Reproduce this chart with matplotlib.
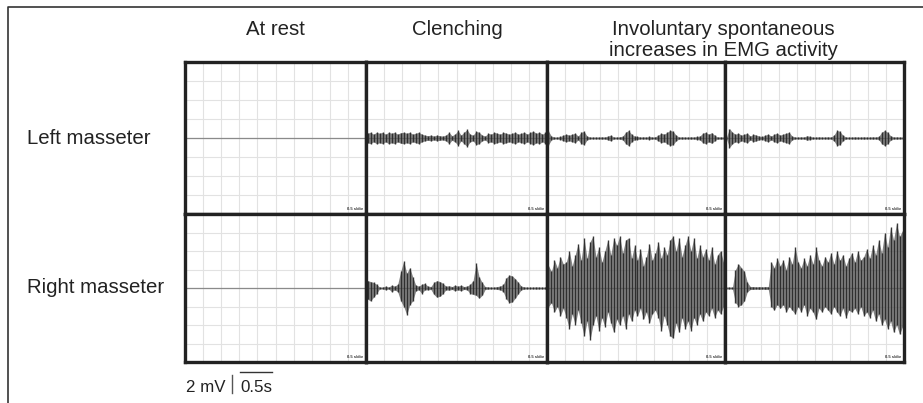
import matplotlib
matplotlib.use("Agg")
import matplotlib.pyplot as plt
from matplotlib.lines import Line2D

plt.rcParams["font.family"] = ["Liberation Sans", "DejaVu Sans"]

W, H = 923, 403

# column titles and row labels
col_titles = ["At rest", "Clenching", "Involuntary spontaneous\nincreases in EMG activity"]
row_labels = ["Left masseter", "Right masseter"]
panel_note = "0.5 s/div"

# EMG envelope, in grid divisions, 6 samples per division (10 divisions wide)
# left masseter: symmetric amplitude
left_rest = [0.0] * 60
left_clench = [0.25, 0.3, 0.2, 0.3, 0.25, 0.3,
               0.2, 0.3, 0.25, 0.3, 0.2, 0.28,
               0.3, 0.25, 0.3, 0.2, 0.25, 0.3,
               0.2, 0.15, 0.12, 0.15, 0.1, 0.15,
               0.12, 0.1, 0.15, 0.3, 0.12, 0.2,
               0.4, 0.15, 0.3, 0.45, 0.2, 0.15,
               0.35, 0.3, 0.15, 0.1, 0.25, 0.2,
               0.3, 0.25, 0.2, 0.3, 0.25, 0.2,
               0.25, 0.3, 0.2, 0.25, 0.3, 0.2,
               0.3, 0.35, 0.25, 0.3, 0.2, 0.3]
left_invol_a = [0.35, 0.1, 0.05, 0.05, 0.08, 0.15,
                0.2, 0.15, 0.2, 0.25, 0.1, 0.3,
                0.35, 0.1, 0.05, 0.05, 0.05, 0.05,
                0.06, 0.05, 0.1, 0.15, 0.05, 0.05,
                0.06, 0.1, 0.3, 0.4, 0.2, 0.1,
                0.08, 0.05, 0.06, 0.05, 0.08, 0.05,
                0.06, 0.15, 0.25, 0.2, 0.3, 0.4,
                0.35, 0.15, 0.05, 0.06, 0.05, 0.05,
                0.06, 0.05, 0.08, 0.1, 0.25, 0.3,
                0.2, 0.28, 0.15, 0.05, 0.06, 0.05]
left_invol_b = [0.05, 0.5, 0.3, 0.2, 0.25, 0.15,
                0.2, 0.25, 0.1, 0.2, 0.15, 0.1,
                0.08, 0.15, 0.2, 0.1, 0.2, 0.25,
                0.15, 0.2, 0.25, 0.3, 0.1, 0.05,
                0.05, 0.06, 0.05, 0.12, 0.08, 0.05,
                0.05, 0.06, 0.05, 0.05, 0.06, 0.05,
                0.15, 0.4, 0.35, 0.15, 0.05, 0.05,
                0.05, 0.06, 0.05, 0.05, 0.06, 0.05,
                0.05, 0.06, 0.05, 0.08, 0.3, 0.4,
                0.3, 0.12, 0.05, 0.06, 0.05, 0.05]

# right masseter: upper and lower excursions (lower given as magnitude)
right_rest_hi = [0.0] * 60
right_rest_lo = [0.0] * 60
right_clench_hi = [0.4, 0.35, 0.3, 0.2, 0.05, 0.05,
                   0.1, 0.05, 0.15, 0.1, 0.2, 0.9,
                   1.45, 0.8, 1.1, 0.6, 0.15, 0.1,
                   0.2, 0.25, 0.1, 0.08, 0.3, 0.4,
                   0.35, 0.25, 0.1, 0.12, 0.08, 0.15,
                   0.1, 0.15, 0.08, 0.1, 0.2, 0.4,
                   1.35, 0.6, 0.3, 0.08, 0.06, 0.05,
                   0.05, 0.08, 0.1, 0.2, 0.55, 0.7,
                   0.65, 0.5, 0.3, 0.1, 0.06, 0.05,
                   0.05, 0.05, 0.06, 0.05, 0.05, 0.05]
right_clench_lo = [0.6, 0.7, 0.5, 0.3, 0.05, 0.05,
                   0.1, 0.05, 0.2, 0.1, 0.2, 0.7,
                   1.0, 1.45, 0.9, 0.7, 0.15, 0.1,
                   0.3, 0.1, 0.1, 0.08, 0.35, 0.5,
                   0.45, 0.3, 0.1, 0.12, 0.08, 0.15,
                   0.1, 0.15, 0.08, 0.1, 0.3, 0.35,
                   0.4, 0.55, 0.4, 0.08, 0.06, 0.05,
                   0.05, 0.08, 0.1, 0.2, 0.6, 0.8,
                   0.75, 0.55, 0.3, 0.1, 0.06, 0.05,
                   0.05, 0.05, 0.06, 0.05, 0.05, 0.05]
right_invol_a_hi = [1.2, 0.9, 1.5, 1.1, 1.7, 1.3,
                    1.4, 2.0, 1.2, 1.8, 2.4, 1.5,
                    2.7, 1.6, 2.5, 2.8, 1.7, 2.2,
                    1.4, 2.0, 2.6, 1.8, 2.7, 2.3,
                    2.8, 1.9, 2.6, 2.7, 1.6, 2.3,
                    1.5, 2.1, 1.2, 1.7, 2.4, 1.5,
                    1.9, 2.5, 1.6, 2.2, 1.8, 2.6,
                    2.8, 2.0, 2.7, 1.7, 2.3, 2.8,
                    2.0, 2.7, 1.6, 2.3, 1.7, 2.1,
                    1.5, 2.2, 1.3, 1.8, 2.0, 1.4]
right_invol_a_lo = [1.0, 0.8, 1.3, 1.0, 1.5, 1.1,
                    1.6, 2.2, 1.4, 2.0, 1.2, 1.9,
                    2.6, 1.8, 2.8, 2.0, 1.5, 2.3,
                    1.6, 2.1, 1.3, 1.9, 2.4, 1.7,
                    2.0, 1.5, 2.2, 1.4, 1.8, 1.2,
                    1.5, 1.1, 1.7, 1.3, 1.9, 1.4,
                    1.2, 1.6, 2.3, 1.5, 2.0, 2.6,
                    2.7, 1.9, 2.4, 1.6, 2.2, 1.8,
                    2.3, 1.6, 2.0, 1.4, 1.8, 1.3,
                    1.5, 1.1, 1.6, 1.2, 1.4, 1.0]
right_invol_b_hi = [0.05, 0.05, 0.05, 1.0, 1.3, 1.1,
                    0.9, 0.3, 0.08, 0.08, 0.06, 0.08,
                    0.06, 0.08, 0.07, 1.4, 1.1, 1.6,
                    1.2, 1.5, 1.0, 1.7, 1.3, 2.2,
                    1.4, 1.1, 1.6, 1.2, 1.8, 1.3,
                    2.2, 1.5, 1.2, 1.7, 1.4, 1.9,
                    1.3, 2.0, 1.5, 1.8, 1.2, 1.6,
                    1.9, 1.4, 2.0, 1.5, 1.7, 2.1,
                    1.6, 2.3, 1.8, 2.6, 1.9, 3.0,
                    2.2, 3.3, 2.6, 3.5, 2.8, 3.1]
right_invol_b_lo = [0.05, 0.05, 0.05, 0.8, 1.0, 0.9,
                    0.7, 0.2, 0.08, 0.08, 0.06, 0.08,
                    0.06, 0.08, 0.07, 1.0, 1.2, 0.9,
                    1.1, 0.9, 1.3, 1.0, 1.2, 1.4,
                    1.0, 1.3, 0.9, 1.5, 1.1, 1.3,
                    1.7, 1.1, 1.3, 1.0, 1.2, 1.4,
                    1.0, 1.3, 1.5, 1.1, 1.6, 1.2,
                    1.3, 1.1, 1.4, 1.0, 1.5, 1.3,
                    1.6, 1.2, 1.8, 1.4, 2.0, 1.7,
                    2.2, 1.8, 2.4, 2.0, 2.5, 2.1]

rows = [
    [(left_rest, left_rest), (left_clench, left_clench),
     (left_invol_a, left_invol_a), (left_invol_b, left_invol_b)],
    [(right_rest_hi, right_rest_lo), (right_clench_hi, right_clench_lo),
     (right_invol_a_hi, right_invol_a_lo), (right_invol_b_hi, right_invol_b_lo)],
]

# panel edges in pixels
col_edges = [185, 366, 547, 725, 904]
row_edges = [62, 214, 362]

fig = plt.figure(figsize=(W / 100, H / 100), dpi=100)


def fx(x):
    return x / W


def fy(y):
    return 1 - y / H


for r in range(2):
    for c in range(4):
        x0, x1 = col_edges[c], col_edges[c + 1]
        y0, y1 = row_edges[r], row_edges[r + 1]
        ax = fig.add_axes([fx(x0), fy(y1), (x1 - x0) / W, (y1 - y0) / H])
        ax.set_xlim(0, 10)
        ax.set_ylim(-4, 4)
        for gx in range(1, 10):
            ax.axvline(gx, color="#e2e2e2", lw=0.8, zorder=0)
        for gy in range(-3, 4):
            ax.axhline(gy, color="#e2e2e2", lw=0.8, zorder=0)
        ax.axhline(0, color="#8a8a8a", lw=0.9, zorder=1)
        hi, lo = rows[r][c]
        xs = [(i + 0.5) / 6 for i in range(len(hi))]
        neg = [-v for v in lo]
        # grey band behind, darker strokes on top
        ax.fill_between(xs, neg, hi, color="#5c5c5c", alpha=0.75, lw=0,
                        zorder=2)
        ax.vlines(xs, neg, hi, color="#262626", lw=1.0, alpha=0.9, zorder=3)
        ax.set_xticks([])
        ax.set_yticks([])
        for s in ax.spines.values():
            s.set_linewidth(2.4)
            s.set_color("#222222")
        ax.text(0.985, 0.02, panel_note, transform=ax.transAxes, fontsize=3,
                ha="right", va="bottom", color="#333333", weight="bold")

# titles
txt = dict(fontsize=14.7, color="#222222")
fig.text(fx(275), fy(35), col_titles[0], ha="center", va="baseline", **txt)
fig.text(fx(457), fy(35), col_titles[1], ha="center", va="baseline", **txt)
line1, line2 = col_titles[2].split("\n")
fig.text(fx(723), fy(35), line1, ha="center", va="baseline", **txt)
fig.text(fx(723), fy(56), line2, ha="center", va="baseline", **txt)

fig.text(fx(27), fy(144), row_labels[0], ha="left", va="baseline", **txt)
fig.text(fx(27), fy(293), row_labels[1], ha="left", va="baseline", **txt)

# scale bars
fig.text(fx(186), fy(392), "2 mV", ha="left", va="baseline", fontsize=12.2,
         color="#222222")
fig.add_artist(Line2D([fx(232), fx(232)], [fy(375), fy(393)],
                      transform=fig.transFigure, color="#555555", lw=1.0))
fig.text(fx(240), fy(392), "0.5s", ha="left", va="baseline", fontsize=12.2,
         color="#222222")
fig.add_artist(Line2D([fx(240), fx(272)], [fy(372), fy(372)],
                      transform=fig.transFigure, color="#333333", lw=1.0))

# frame: left and top edges only
fig.add_artist(Line2D([fx(8), fx(8), fx(923)], [fy(403), fy(7), fy(7)],
                      transform=fig.transFigure, color="#333333", lw=1.2))

fig.savefig("out.png", dpi=100)
